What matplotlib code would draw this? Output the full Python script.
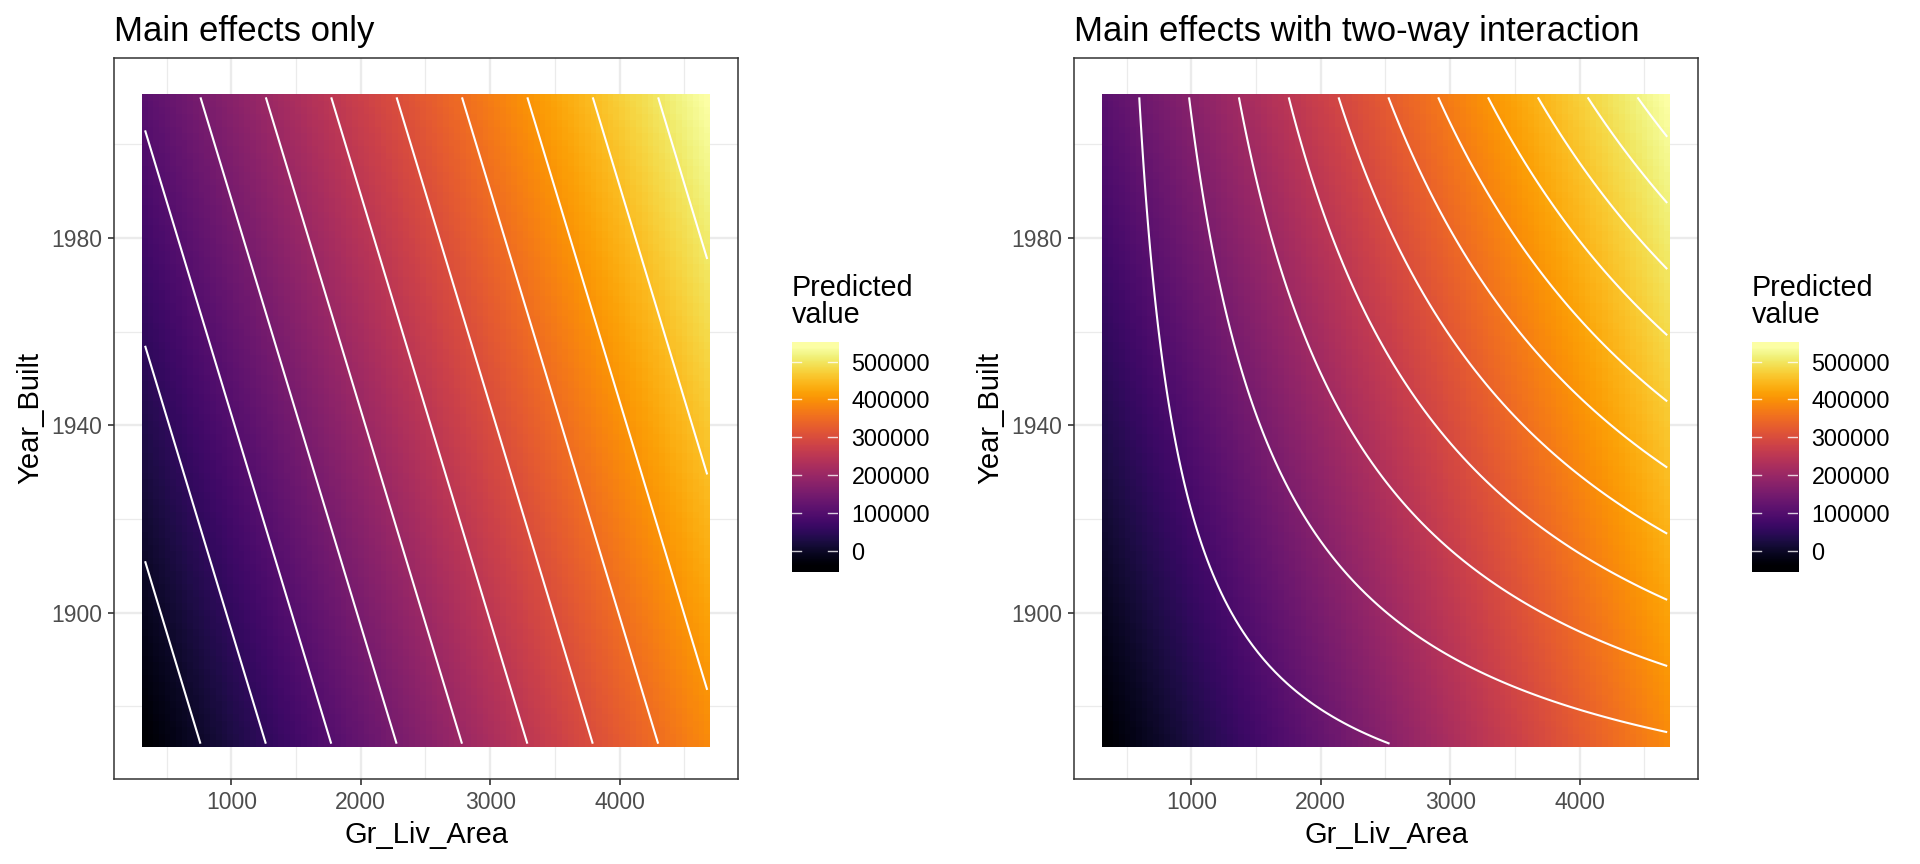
import numpy as np
import matplotlib.pyplot as plt
from matplotlib.ticker import MultipleLocator

plt.rcParams['font.family'] = ['Liberation Sans', 'DejaVu Sans']

# --- data ---
# predictor ranges used for the prediction grid
gr_liv_area_range = [334, 4676]
year_built_range = [1872, 2010]
n_grid = 100

# main effects model: intercept, Gr_Liv_Area, Year_Built
main_coef = [-2110272, 99.0, 1087.0]
# interaction model: intercept, Gr_Liv_Area, Year_Built, Gr_Liv_Area:Year_Built
inter_coef = [343811, -1481.9, -209.7, 0.8019]

contour_levels = [0, 50000, 100000, 150000, 200000, 250000,
                  300000, 350000, 400000, 450000, 500000]
legend_ticks = [0, 100000, 200000, 300000, 400000, 500000]
x_ticks = [1000, 2000, 3000, 4000]
y_ticks = [1900, 1940, 1980]
titles = ['Main effects only', 'Main effects with two-way interaction']

# --- prediction grid ---
gr = np.linspace(gr_liv_area_range[0], gr_liv_area_range[1], n_grid)
yr = np.linspace(year_built_range[0], year_built_range[1], n_grid)
G, Y = np.meshgrid(gr, yr)
pred_main = main_coef[0] + main_coef[1] * G + main_coef[2] * Y
pred_inter = (inter_coef[0] + inter_coef[1] * G + inter_coef[2] * Y
              + inter_coef[3] * G * Y)

lo, hi = pred_main.min(), pred_main.max()
dg = gr[1] - gr[0]
dy = yr[1] - yr[0]
extent = [gr[0] - dg / 2, gr[-1] + dg / 2, yr[0] - dy / 2, yr[-1] + dy / 2]
xpad = (extent[1] - extent[0]) * 0.05

fig = plt.figure(figsize=(19.2, 8.64), dpi=100)

panel_lefts = [0.0593, 0.5593]
cbar_lefts = [0.4123, 0.9123]
line_surfaces = [pred_main, pred_inter]

for i in range(2):
    ax = fig.add_axes([panel_lefts[i], 0.0986, 0.3253, 0.8348])
    # fill is the same predicted surface in both panels
    ax.imshow(pred_main, origin='lower', extent=extent, aspect='auto',
              cmap='inferno', vmin=lo, vmax=hi, interpolation='nearest',
              zorder=1)
    ax.contour(G, Y, line_surfaces[i], levels=contour_levels,
               colors='white', linewidths=1.5, zorder=2)
    ax.set_xlim(extent[0] - xpad, extent[1] + xpad)
    ax.set_ylim(1864.5, 2018.5)

    ax.set_xticks(x_ticks)
    ax.set_yticks(y_ticks)
    ax.xaxis.set_minor_locator(MultipleLocator(500))
    ax.yaxis.set_minor_locator(MultipleLocator(20))
    ax.grid(which='major', color='#EBEBEB', lw=1.7, zorder=0)
    ax.grid(which='minor', color='#EBEBEB', lw=0.9, zorder=0)
    ax.set_axisbelow(True)
    ax.tick_params(which='major', colors='#333333', labelcolor='#4D4D4D',
                   labelsize=16.5, length=4.5, width=1.2, pad=4)
    ax.tick_params(which='minor', length=0)
    for sp in ax.spines.values():
        sp.set_color('#333333')
        sp.set_linewidth(1.1)
    ax.set_xlabel('Gr_Liv_Area', fontsize=21, labelpad=5.5)
    ax.set_ylabel('Year_Built', fontsize=21, labelpad=4.5)

    fig.text(panel_lefts[i], 1 - 41.5 / 864, titles[i], fontsize=25,
             ha='left', va='baseline')

    # colourbar: 20 bins, smoothed like ggplot's guide
    cax = fig.add_axes([cbar_lefts[i], 0.3376, 0.024, 0.2669])
    h = (hi - lo) / 19
    cax.imshow(np.linspace(0, 1, 20)[:, None], origin='lower', aspect='auto',
               cmap='inferno', extent=[0, 1, lo - h / 2, hi + h / 2],
               interpolation='bilinear')
    cax.set_xlim(0, 1)
    cax.set_ylim(lo - h / 2, hi + h / 2)
    for v in legend_ticks:
        cax.plot([0, 0.2], [v, v], color='white', lw=1.0, alpha=0.8)
        cax.plot([0.8, 1], [v, v], color='white', lw=1.0, alpha=0.8)
    cax.set_xticks([])
    cax.yaxis.tick_right()
    cax.set_yticks(legend_ticks)
    cax.set_yticklabels([str(v) for v in legend_ticks])
    cax.tick_params(length=0, labelsize=16.8, labelcolor='black', pad=10)
    for sp in cax.spines.values():
        sp.set_visible(False)
    fig.text(cbar_lefts[i], 1 - 329 / 864, 'Predicted\nvalue', fontsize=20.7,
             ha='left', va='bottom', linespacing=0.95)

fig.savefig('out.png', dpi=100)
